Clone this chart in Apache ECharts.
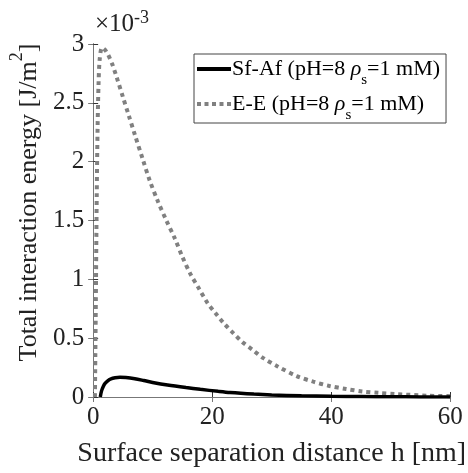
<!DOCTYPE html>
<html>
<head>
<meta charset="utf-8">
<script src="https://cdn.jsdelivr.net/npm/echarts@6/dist/echarts.min.js"></script>
<style>html,body{margin:0;padding:0;background:#fff;}#c{width:468px;height:473px;}</style>
</head>
<body>
<div id="c"></div>
<script>
// values in units of 1e-3 J/m^2
const seriesNames = ['Sf-Af (pH=8 ρs=1 mM)', 'E-E (pH=8 ρs=1 mM)'];
const sfH = [1.2,1.4,1.7,2.0,2.5,3.0,3.7,4.5,5.5,7,8.5,10,12.5,15.6,18,21,23,27,30,35,40,45,50,55,60];
const sfV = [0,0.05,0.09,0.115,0.14,0.155,0.163,0.167,0.165,0.155,0.14,0.124,0.102,0.08,0.065,0.048,0.038,0.025,0.018,0.01,0.006,0.004,0.002,0.001,0.001];
const eeH = [0.3,0.45,0.6,0.75,0.9,1.1,1.5,2.0,2.5,3.2,4.0,5.0,6.0,7.0,8.4,9.5,10.9,12.3,13.7,15,16.4,17.8,19.2,20.6,22,23.5,25,26.8,28.6,31,34.2,37,39.7,42.5,45.2,48,50.8,56.3,60];
const eeV = [0,0.8,1.7,2.3,2.65,2.87,2.97,2.95,2.91,2.83,2.71,2.55,2.39,2.23,2.01,1.84,1.66,1.5,1.35,1.19,1.04,0.92,0.80,0.71,0.624,0.545,0.47,0.40,0.33,0.26,0.178,0.13,0.094,0.068,0.047,0.035,0.025,0.011,0.007];
const xTicks = [0,20,40,60];
const yTicks = [0,0.5,1,1.5,2,2.5,3];

const FONT = 'Liberation Serif';
const axisColor = '#333';
const boxColor = '#777';
const chart = echarts.init(document.getElementById('c'), null, {renderer:'canvas'});
const zip = (a,b) => a.map((v,i)=>[v,b[i]]);
const legendRich = {
  t:{fontFamily:FONT,fontSize:22,color:'#000',lineHeight:26},
  g:{fontFamily:FONT,fontSize:22,fontStyle:'italic',color:'#000',lineHeight:26},
  sub:{fontFamily:FONT,fontSize:15,color:'#000',lineHeight:26,verticalAlign:'bottom',padding:[0,0,-6,0]}
};
function legendFmt(name){
  const i = name.indexOf('ρs');
  return '{t|' + name.slice(0,i) + '}{g|ρ}{sub|s}{t|' + name.slice(i+2) + '}';
}
const solidIcon = 'path://M0,0H34V4H0Z';
const dotIcon = 'path://M0,0h4v4h-4z M7.5,0h4v4h-4z M15,0h4v4h-4z M22.5,0h4v4h-4z M30,0h4v4h-4z';
const option = {
  animation:false,
  backgroundColor:'#fff',
  grid:{left:91,right:16,top:44,bottom:70,containLabel:false},
  xAxis:[{
    type:'value',min:xTicks[0],max:xTicks[xTicks.length-1],interval:20,
    name:'Surface separation distance h [nm]',nameLocation:'middle',nameGap:43,
    nameTextStyle:{fontFamily:FONT,fontSize:28,color:'#222'},
    axisLine:{show:true,lineStyle:{color:axisColor,width:1}},
    axisTick:{show:true,inside:true,length:5,lineStyle:{color:axisColor}},
    axisLabel:{fontFamily:FONT,fontSize:25,color:'#222',margin:8},
    splitLine:{show:false}
  },{
    type:'value',position:'top',min:0,max:60,interval:20,
    axisLine:{show:true,lineStyle:{color:boxColor,width:1}},
    axisTick:{show:true,inside:true,length:5,lineStyle:{color:boxColor}},
    axisLabel:{show:false},splitLine:{show:false}
  }],
  yAxis:[{
    type:'value',min:yTicks[0],max:yTicks[yTicks.length-1],interval:0.5,
    name:'{a|Total interaction energy [J/m}{s|2}{a|]}',nameLocation:'middle',nameGap:40,nameRotate:90,
    nameTextStyle:{padding:[0,0,0,36],rich:{
      a:{fontFamily:FONT,fontSize:26,color:'#222',lineHeight:34,verticalAlign:'bottom'},
      s:{fontFamily:FONT,fontSize:18,color:'#222',lineHeight:34,verticalAlign:'top'}
    }},
    axisLine:{show:true,lineStyle:{color:axisColor,width:1}},
    axisTick:{show:true,inside:true,length:5,lineStyle:{color:axisColor}},
    axisLabel:{fontFamily:FONT,fontSize:25,color:'#222',margin:9},
    splitLine:{show:false}
  },{
    type:'value',position:'right',min:0,max:3,interval:0.5,
    axisLine:{show:true,lineStyle:{color:boxColor,width:1}},
    axisTick:{show:true,inside:true,length:5,lineStyle:{color:boxColor}},
    axisLabel:{show:false},splitLine:{show:false}
  }],
  legend:{
    left:194,top:54,orient:'vertical',
    padding:[4,6,0,3],itemGap:5,
    itemWidth:34,itemHeight:4,
    backgroundColor:'#fff',borderColor:'#444',borderWidth:1,
    formatter:legendFmt,
    textStyle:{rich:legendRich,padding:[0,0,0,-4]},
    data:[
      {name:seriesNames[0],icon:solidIcon,itemStyle:{color:'#000'}},
      {name:seriesNames[1],icon:dotIcon,itemStyle:{color:'#808080'}}
    ]
  },
  graphic:[{
    type:'text',left:95,top:9,
    style:{
      text:'{a|×10}{s|-3}',
      rich:{
        a:{fontFamily:FONT,fontSize:25,fill:'#222',lineHeight:28,verticalAlign:'bottom'},
        s:{fontFamily:FONT,fontSize:18,fill:'#222',lineHeight:28,verticalAlign:'top'}
      }
    }
  }],
  series:[{
    name:seriesNames[0],type:'line',data:zip(sfH,sfV),symbol:'none',showSymbol:false,smooth:0.3,
    lineStyle:{color:'#000',width:3.5},itemStyle:{color:'#000'},z:3
  },{
    name:seriesNames[1],type:'line',data:zip(eeH,eeV),symbol:'none',showSymbol:false,smooth:0.3,
    lineStyle:{color:'#808080',width:4,type:[4,4]},itemStyle:{color:'#808080'},z:2
  }]
};
chart.setOption(option);
</script>
</body>
</html>
